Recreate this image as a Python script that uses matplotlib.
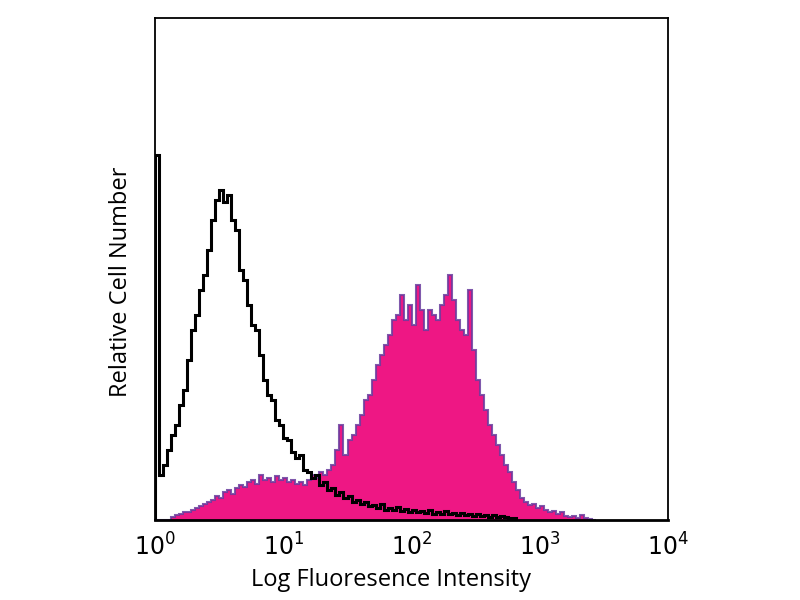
import numpy as np
import matplotlib
matplotlib.use("Agg")
import matplotlib.pyplot as plt

plt.rcParams['font.family'] = ['Open Sans', 'DejaVu Sans']

# log-spaced bins, 128 across four decades
edges = 10 ** np.linspace(0, 4, 129)

# isotype control (black outline)
control = [365, 45, 55, 70, 85, 95, 115, 130, 160, 190,
           205, 230, 245, 270, 300, 320, 330, 318, 325, 300,
           290, 250, 240, 215, 195, 190, 165, 140, 125, 120,
           100, 95, 82, 80, 68, 62, 65, 50, 48, 42,
           45, 35, 38, 30, 32, 25, 28, 22, 24, 18,
           20, 16, 18, 14, 15, 12, 16, 10, 12, 10,
           13, 9, 11, 8, 10, 8, 9, 7, 10, 6,
           8, 6, 9, 6, 7, 5, 7, 5, 6, 4,
           6, 4, 5, 3, 5, 3, 4, 3, 2, 2]

# stained sample (magenta fill)
stained = [0, 0, 0, 0, 3, 5, 6, 8, 8, 10,
           12, 14, 16, 18, 20, 24, 22, 28, 30, 26,
           32, 35, 33, 38, 40, 36, 45, 40, 42, 38,
           44, 40, 42, 38, 40, 36, 38, 35, 40, 45,
           42, 48, 45, 50, 55, 70, 95, 65, 80, 85,
           95, 105, 120, 125, 140, 155, 165, 175, 185, 200,
           205, 225, 200, 215, 195, 235, 210, 190, 210, 205,
           200, 215, 225, 245, 220, 200, 190, 185, 230, 170,
           140, 125, 110, 95, 85, 75, 65, 55, 48, 38,
           30, 22, 18, 15, 16, 12, 14, 10, 8, 9,
           6, 8, 4, 3, 4, 2, 5, 2, 1, 0]

fig = plt.figure(figsize=(8, 6), dpi=100)
ax = fig.add_axes([0.194, 0.1333, 0.641, 0.8367])

ax.stairs(stained, edges[:len(stained) + 1], fill=True, color='#ee1784')
ax.stairs(stained, edges[:len(stained) + 1], color='#6a3c9e', linewidth=1.5, alpha=0.85)
ax.stairs(control, edges[:len(control) + 1], color='black', linewidth=2.2)

ax.set_xscale('log')
ax.set_xlim(1, 1e4)
ax.set_ylim(0, 502)
ax.set_xticks([1, 10, 100, 1000, 10000])
ax.set_xticklabels(['$10^0$', '$10^1$', '$10^2$', '$10^3$', '$10^4$'])
ax.minorticks_off()
ax.tick_params(axis='x', length=0, pad=10, labelsize=17)
ax.set_yticks([])
for s in ax.spines.values():
    s.set_linewidth(1.3)
ax.spines['bottom'].set_linewidth(2)

ax.set_xlabel('Log Fluoresence Intensity', fontsize=17)
ax.set_ylabel('Relative Cell Number', fontsize=17)
ax.xaxis.set_label_coords(0.46, -0.095)
ax.yaxis.set_label_coords(-0.044, 0.474)

fig.savefig('out.png', dpi=100)
